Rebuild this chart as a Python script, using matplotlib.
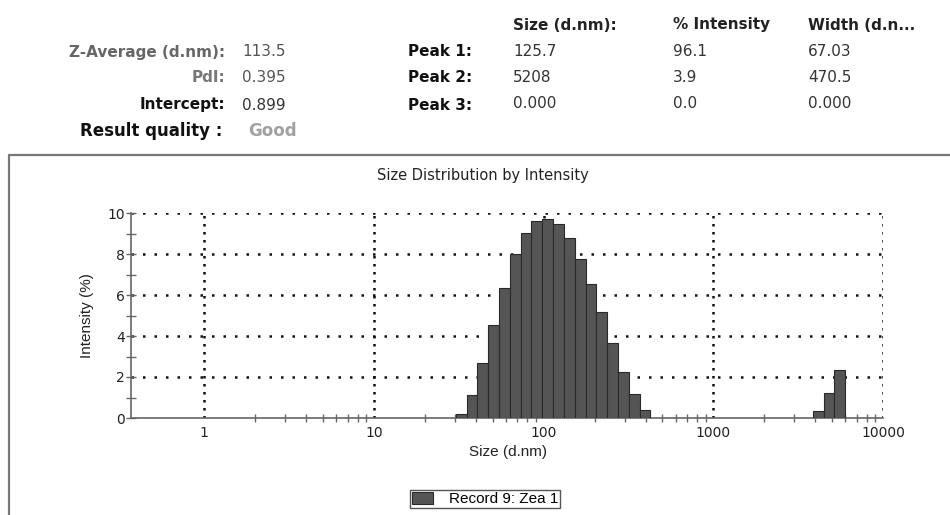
import numpy as np
import matplotlib
matplotlib.use("Agg")
import matplotlib.pyplot as plt
from matplotlib.lines import Line2D
from matplotlib.ticker import FixedLocator, NullFormatter

########################################################
# DATA
########################################################

# bin centres (d.nm) of the size classes that hold intensity
sizes = [32.67, 37.84, 43.82, 50.75, 58.77, 68.06, 78.82, 91.28,
         105.7, 122.4, 141.8, 164.2, 190.1, 220.2, 255.0, 295.3,
         342.0, 396.1, 4145, 4801, 5560]

intensity = [0.21, 1.11, 2.67, 4.54, 6.34, 8.02, 9.03, 9.60,
             9.71, 9.44, 8.78, 7.78, 6.54, 5.17, 3.66, 2.25,
             1.18, 0.40, 0.36, 1.22, 2.35]

bin_ratio = 37.84 / 32.67

summary_labels = ["Z-Average (d.nm):", "PdI:", "Intercept:"]
summary_values = ["113.5", "0.395", "0.899"]
quality_label = "Result quality :"
quality_value = "Good"

peak_names = ["Peak 1:", "Peak 2:", "Peak 3:"]
peak_columns = ["Size (d.nm):", "% Intensity", "Width (d.n..."]
peak_size = ["125.7", "5208", "0.000"]
peak_intensity = ["96.1", "3.9", "0.0"]
peak_width = ["67.03", "470.5", "0.000"]

x_ticks = [1, 10, 100, 1000, 10000]
y_ticks = [0, 2, 4, 6, 8, 10]

legend_label = "Record 9: Zea 1"

########################################################
# FIGURE
########################################################

W, H = 950, 515
fig = plt.figure(figsize=(W / 100, H / 100), dpi=100)

wide = ["DejaVu Sans"]
narrow = ["Liberation Sans Narrow", "DejaVu Sans Condensed",
          "Liberation Sans"]


def px(x, y):
    return x / W, 1 - y / H


# header block
row_y = [52, 78, 105]
label_colors = ["#666666", "#777777", "#111111"]
value_colors = ["#555555", "#555555", "#333333"]

for i, (lab, val) in enumerate(zip(summary_labels, summary_values)):
    fig.text(*px(225, row_y[i]), lab, ha="right", va="center",
             fontsize=11, fontweight="bold", color=label_colors[i],
             family=wide)
    fig.text(*px(242, row_y[i]), val, ha="left", va="center",
             fontsize=11, color=value_colors[i], family=wide)

fig.text(*px(222, 131), quality_label, ha="right", va="center",
         fontsize=12, fontweight="bold", color="#111111", family=wide)
fig.text(*px(248, 131), quality_value, ha="left", va="center",
         fontsize=12, fontweight="bold", color="#a0a0a0", family=wide)

col_x = [513, 673, 808]
for cx, name in zip(col_x, peak_columns):
    fig.text(*px(cx, 25), name, ha="left", va="center",
             fontsize=11, fontweight="bold", color="#222222", family=wide)

for i, name in enumerate(peak_names):
    fig.text(*px(408, row_y[i]), name, ha="left", va="center",
             fontsize=11, fontweight="bold", color="#111111", family=wide)
    for cx, vals in zip(col_x, [peak_size, peak_intensity, peak_width]):
        fig.text(*px(cx, row_y[i] - 1), vals[i], ha="left", va="center",
                 fontsize=11, color="#333333", family=wide)

# panel frame (left and top edges only, the rest runs off the image)
frame = Line2D([9 / W, 9 / W, 1.0], [0.0, 1 - 155 / H, 1 - 155 / H],
               transform=fig.transFigure, color="#777777", lw=1.6)
fig.add_artist(frame)

fig.text(*px(483, 175), "Size Distribution by Intensity", ha="center",
         va="center", fontsize=10.5, color="#222222", family=wide)

########################################################
# HISTOGRAM
########################################################

ax = fig.add_axes([131 / W, 1 - 418 / H, (883 - 131) / W, (418 - 213) / H])

sizes_arr = np.array(sizes)
left = sizes_arr / np.sqrt(bin_ratio)
right = sizes_arr * np.sqrt(bin_ratio)

ax.bar(left, intensity, width=right - left, align="edge",
       color="#555555", edgecolor="#2a2a2a", linewidth=0.8, zorder=3,
       label=legend_label)

ax.set_xscale("log")
ax.set_xlim(0.37, 10000)
ax.set_ylim(0, 10)

for yv in y_ticks[1:]:
    ax.axhline(yv, color="#111111", lw=1.8, ls=(0, (1, 3.6)), zorder=1)
for xv in x_ticks:
    ax.axvline(xv, color="#111111", lw=1.8, ls=(0, (1, 2.2)), zorder=1)

ax.spines["top"].set_visible(False)
ax.spines["right"].set_visible(False)
for s in ["left", "bottom"]:
    ax.spines[s].set_color("#666666")
    ax.spines[s].set_linewidth(1.2)

ax.xaxis.set_major_locator(FixedLocator(x_ticks))
ax.set_xticklabels([str(v) for v in x_ticks])
minor = [m * 10.0 ** d for d in range(0, 4) for m in range(2, 10)]
ax.xaxis.set_minor_locator(FixedLocator(minor))
ax.xaxis.set_minor_formatter(NullFormatter())

ax.set_yticks(y_ticks)
ax.set_yticks([1, 3, 5, 7, 9], minor=True)

ax.tick_params(axis="both", which="both", direction="inout",
               color="#666666", width=1.0, labelsize=10, labelcolor="#222222")
ax.tick_params(axis="x", which="major", length=0, pad=6)
ax.tick_params(axis="x", which="minor", length=6)
ax.tick_params(axis="y", which="both", length=7, pad=1)

for lab in ax.get_xticklabels() + ax.get_yticklabels():
    lab.set_family(wide)

ax.set_xlabel("Size (d.nm)", fontsize=11, family=narrow, color="#222222",
              va="center")
ax.xaxis.set_label_coords((508 - 131) / 752, (418 - 452) / 205)
ax.set_ylabel("Intensity (%)", fontsize=11, family=narrow, color="#222222",
              va="center")
ax.yaxis.set_label_coords((87 - 131) / 752, 0.5)

leg = fig.legend(loc="center", bbox_to_anchor=px(485, 499), fontsize=11,
                 fancybox=False, edgecolor="#555555", framealpha=1,
                 handlelength=1.4, handleheight=0.8, borderpad=0.1,
                 handletextpad=1.0, borderaxespad=0)
leg.get_frame().set_linewidth(1.0)
for t in leg.get_texts():
    t.set_family(narrow)

fig.savefig("out.png", dpi=100)
